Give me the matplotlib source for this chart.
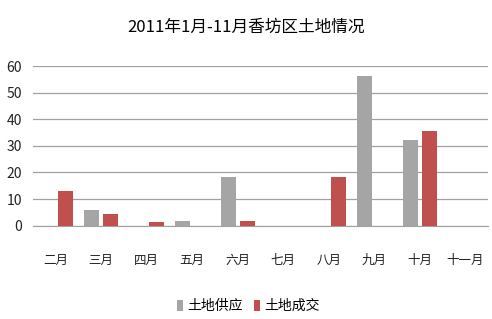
import numpy as np
import matplotlib.pyplot as plt

plt.rcParams['font.family'] = ['Noto Sans CJK SC', 'DejaVu Sans']

months = ['二月', '三月', '四月', '五月', '六月', '七月', '八月', '九月', '十月', '十一月']
supply = [0, 5.8, 0, 1.8, 18.4, 0, 0, 56.4, 32.1, 0]
deal = [13.2, 4.3, 1.5, 0, 1.8, 0, 18.4, 0, 35.5, 0]

fig = plt.figure(figsize=(4.92, 3.19), dpi=100)
ax = fig.add_axes([0.067, 0.2925, 0.925, 0.5005])

x = np.arange(len(months))
w = 0.33
ax.bar(x - w / 2 - 0.04, supply, w, color='#A5A5A5', label='土地供应', zorder=3)
ax.bar(x + w / 2 + 0.04, deal, w, color='#C0504D', label='土地成交', zorder=3)

ax.set_xlim(-0.5, len(months) - 0.5)
ax.set_ylim(0, 60)
ax.set_yticks(range(0, 61, 10))
ax.set_xticks(x)
ax.set_xticklabels(months)
ax.yaxis.grid(True, color='#A0A0A0', linewidth=0.9, zorder=0)
for s in ['top', 'right', 'left']:
    ax.spines[s].set_visible(False)
ax.spines['bottom'].set_color('#A0A0A0')
ax.tick_params(axis='both', length=0, colors='#222222')
ax.tick_params(axis='x', pad=20, labelsize=9)
ax.tick_params(axis='y', pad=8, labelsize=10)

fig.text(0.5, 0.915, '2011年1月-11月香坊区土地情况', ha='center', va='center', fontsize=12)
fig.legend(loc='center', bbox_to_anchor=(0.505, 0.04), ncol=2, frameon=False,
           fontsize=10, handlelength=0.45, handleheight=0.9, handletextpad=0.3,
           columnspacing=0.8)

fig.savefig('out.png', dpi=100)
